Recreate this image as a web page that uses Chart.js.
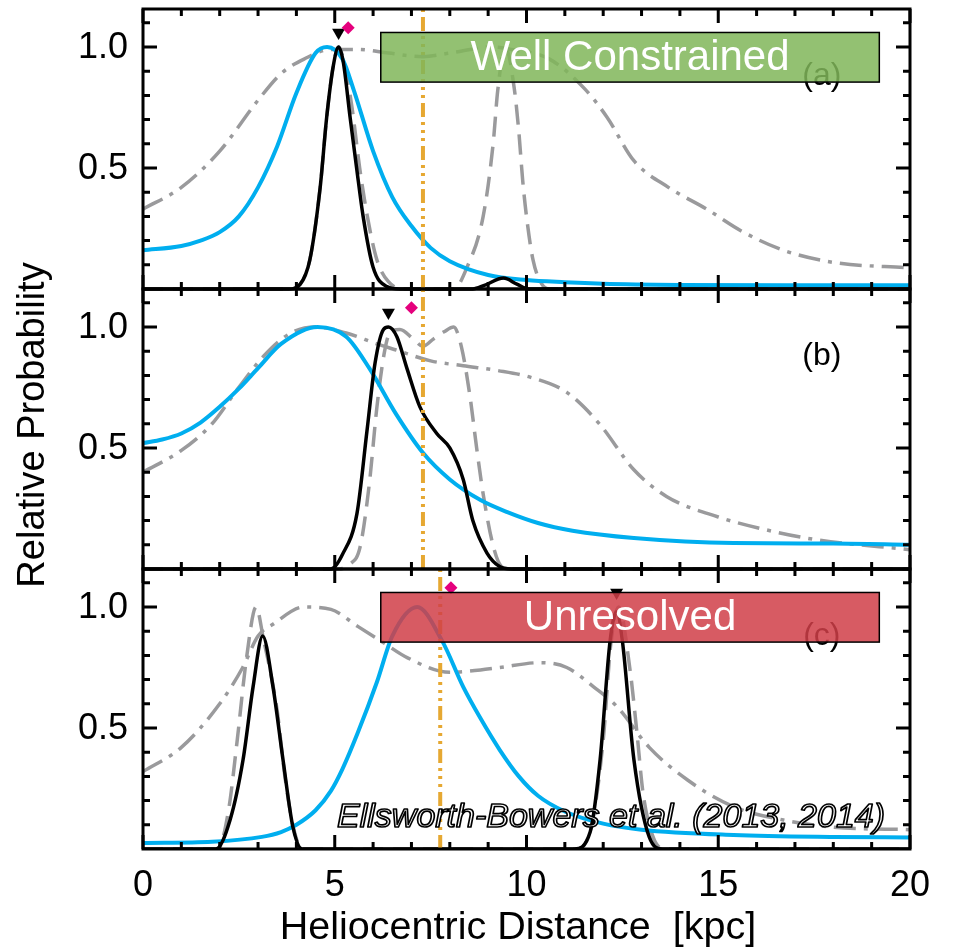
<!DOCTYPE html>
<html>
<head>
<meta charset="utf-8">
<title>Relative Probability</title>
<script src="https://cdn.jsdelivr.net/npm/chart.js@4.4.1/dist/chart.umd.min.js"></script>
<style>
	html, body { margin: 0; padding: 0; background: #fff; }
	canvas { display: block; }
</style>
</head>
<body>
<canvas id="dpdfChart" width="953" height="947"></canvas>
<script>
// each panel shows 0 .. TOP on its own y axis
const TOP = 1.157;

const panelIds = ["ya", "yb", "yc"];
const panelLabels = ["(a)", "(b)", "(c)"];
const panelTags = ["Well Constrained", "", "Unresolved"];
const xTickLabels = [0, 5, 10, 15, 20];
const yTickLabels = [0.5, 1.0];

// orange vertical line, black triangle (peak) and magenta diamond, per panel
const orangeLineX = [7.3, 7.3, 7.75];
const triangleX = [5.1, 6.4, 12.35];
const diamondX = [5.35, 7.0, 8.03];

// panel (a)
const aBlueX = [0, 1, 1.5, 2, 2.5, 3, 3.5, 4, 4.5, 4.8, 5.2, 5.5, 6, 6.5, 7, 7.5, 8, 9, 10, 11, 12, 14, 17, 20];
const aBlueY = [0.16, 0.178, 0.2, 0.235, 0.3, 0.42, 0.59, 0.81, 0.975, 1.0, 0.95, 0.82, 0.57, 0.38, 0.26, 0.17, 0.115, 0.058, 0.037, 0.028, 0.022, 0.017, 0.015, 0.015];
const aBlackX = [0, 3.8, 4.1, 4.35, 4.62, 4.79, 4.96, 5.1, 5.22, 5.4, 5.57, 5.74, 6.0, 6.36, 6.7, 8.6, 8.9, 9.4, 9.75, 10.05, 20];
const aBlackY = [0, 0, 0.02, 0.12, 0.42, 0.71, 0.92, 1.0, 0.94, 0.71, 0.5, 0.3, 0.09, 0.01, 0, 0, 0.015, 0.045, 0.02, 0, 0];
const aDashX = [0, 3.8, 4.1, 4.35, 4.62, 4.79, 4.96, 5.1, 5.25, 5.45, 5.65, 5.85, 6.1, 6.4, 6.8, 8.1, 8.45, 8.87, 9.13, 9.25, 9.45, 9.68, 9.8, 9.9, 10.0, 10.17, 10.4, 10.6, 20];
const aDashY = [0, 0, 0.02, 0.12, 0.42, 0.71, 0.92, 1.0, 0.93, 0.75, 0.5, 0.3, 0.12, 0.03, 0, 0, 0.09, 0.3, 0.6, 0.82, 1.0, 0.83, 0.65, 0.45, 0.3, 0.12, 0.02, 0, 0];
const aDotX = [0, 1, 2, 3, 3.6, 4.2, 4.9, 5.6, 6.4, 7.3, 8.0, 9.1, 9.6, 10.6, 11.5, 12.1, 12.8, 13.7, 14.7, 15.6, 16.7, 18, 20];
const aDotY = [0.33, 0.42, 0.57, 0.78, 0.89, 0.95, 0.99, 0.99, 0.975, 0.96, 0.975, 1.0, 0.99, 0.95, 0.83, 0.71, 0.53, 0.42, 0.33, 0.24, 0.16, 0.11, 0.087];

// panel (b)
const bBlueX = [0, 0.5, 1, 1.5, 2, 2.5, 3, 3.6, 4.55, 5.3, 5.9, 6.6, 7.3, 8.0, 8.8, 9.5, 10.3, 11.2, 12.8, 15.4, 18, 20];
const bBlueY = [0.52, 0.535, 0.56, 0.605, 0.67, 0.745, 0.83, 0.93, 1.0, 0.96, 0.83, 0.64, 0.48, 0.37, 0.285, 0.235, 0.19, 0.158, 0.128, 0.107, 0.105, 0.1];
const bBlackX = [0, 4.9, 5.2, 5.58, 5.84, 6.05, 6.27, 6.4, 6.62, 6.88, 7.22, 7.66, 8.0, 8.35, 8.6, 8.97, 9.3, 9.6, 20];
const bBlackY = [0, 0, 0.06, 0.23, 0.57, 0.85, 0.99, 1.0, 0.96, 0.83, 0.67, 0.56, 0.5, 0.37, 0.2, 0.066, 0.01, 0, 0];
const bDashX = [0, 5.1, 5.4, 5.66, 5.9, 6.1, 6.3, 6.45, 6.7, 7.05, 7.3, 7.57, 7.85, 8.1, 8.3, 8.53, 8.7, 8.88, 9.14, 9.35, 9.6, 20];
const bDashY = [0, 0, 0.02, 0.09, 0.35, 0.67, 0.9, 0.98, 0.99, 0.95, 0.92, 0.95, 0.98, 1.0, 0.92, 0.71, 0.5, 0.3, 0.09, 0.01, 0, 0];
const bDotX = [0, 1, 1.8, 2.45, 3.15, 3.85, 4.5, 5.3, 6.1, 6.6, 7.5, 8.35, 9.25, 10.15, 11.05, 11.9, 12.8, 13.65, 15, 16.3, 17.6, 20];
const bDotY = [0.4, 0.49, 0.6, 0.74, 0.88, 0.975, 1.0, 0.975, 0.93, 0.905, 0.86, 0.84, 0.82, 0.79, 0.73, 0.6, 0.41, 0.3, 0.215, 0.16, 0.12, 0.08];

// panel (c)
const cBlueX = [0, 1.8, 3.1, 3.6, 4.0, 4.5, 4.9, 5.2, 5.6, 6.1, 6.5, 7.15, 7.8, 8.35, 8.8, 9.3, 9.8, 10.3, 11, 12, 13, 15.4, 18, 20];
const cBlueY = [0.025, 0.03, 0.05, 0.07, 0.1, 0.16, 0.24, 0.33, 0.48, 0.69, 0.88, 1.0, 0.86, 0.67, 0.54, 0.41, 0.3, 0.22, 0.155, 0.105, 0.08, 0.058, 0.05, 0.048];
const cBlackX = [0, 1.9, 2.27, 2.61, 2.87, 3.12, 3.39, 3.65, 3.91, 4.15, 11.25, 11.66, 11.92, 12.18, 12.35, 12.5, 12.8, 13.2, 13.55, 20];
const cBlackY = [0, 0, 0.12, 0.37, 0.67, 0.88, 0.67, 0.37, 0.09, 0, 0, 0.07, 0.37, 0.86, 0.98, 0.86, 0.37, 0.05, 0, 0];
const cDashX = [0, 1.95, 2.23, 2.45, 2.7, 2.95, 3.15, 3.3, 3.5, 3.7, 3.92, 4.15, 11.3, 11.7, 12.0, 12.2, 12.4, 12.7, 12.88, 13.04, 13.3, 13.6, 20];
const cDashY = [0, 0, 0.16, 0.44, 0.79, 1.0, 0.86, 0.75, 0.57, 0.3, 0.09, 0, 0, 0.1, 0.45, 0.85, 1.0, 0.74, 0.48, 0.23, 0.05, 0, 0];
const cDotX = [0, 1, 2, 2.6, 3.0, 3.4, 4.2, 4.9, 5.6, 6.2, 6.9, 8.0, 8.8, 9.3, 10.35, 11.05, 11.75, 12.35, 13.2, 14.2, 15.4, 16.7, 18, 20];
const cDotY = [0.32, 0.42, 0.6, 0.75, 0.88, 0.93, 1.0, 0.99, 0.92, 0.86, 0.79, 0.73, 0.74, 0.75, 0.77, 0.75, 0.67, 0.59, 0.42, 0.285, 0.175, 0.12, 0.09, 0.08];

const curves = [
	{ blue: [aBlueX, aBlueY], black: [aBlackX, aBlackY], dash: [aDashX, aDashY], dot: [aDotX, aDotY] },
	{ blue: [bBlueX, bBlueY], black: [bBlackX, bBlackY], dash: [bDashX, bDashY], dot: [bDotX, bDotY] },
	{ blue: [cBlueX, cBlueY], black: [cBlackX, cBlackY], dash: [cDashX, cDashY], dot: [cDotX, cDotY] },
];

const FONT = "'Liberation Sans', Arial, Helvetica, sans-serif";
const GRAY = "#9a9a9c";
const BLUE = "#00aeef";
const ORANGE = "#e6a832";
const MAGENTA = "#e5007d";

function pts(xs, ys) {
	return xs.map((x, i) => ({ x: x, y: ys[i] }));
}

function lineSet(data, axis, color, width, dash, order) {
	return {
		data: data,
		yAxisID: axis,
		borderColor: color,
		borderWidth: width,
		borderDash: dash,
		pointRadius: 0,
		fill: false,
		cubicInterpolationMode: "monotone",
		order: order,
	};
}

const datasets = [];
curves.forEach((c, p) => {
	const axis = panelIds[p];
	datasets.push(lineSet(pts(c.dot[0], c.dot[1]), axis, GRAY, 3.5, [22, 8, 4, 8], 6));
	datasets.push(lineSet(pts(c.dash[0], c.dash[1]), axis, GRAY, 3.5, [20, 10], 5));
	datasets.push(lineSet(pts(c.blue[0], c.blue[1]), axis, BLUE, 4, [], 4));
	datasets.push(lineSet(pts(c.black[0], c.black[1]), axis, "#000", 3.5, [], 3));
	const sun = lineSet([{ x: orangeLineX[p], y: 0 }, { x: orangeLineX[p], y: TOP }], axis, ORANGE, 4, [14, 5, 3, 5, 3, 5, 3, 5], 2);
	sun.cubicInterpolationMode = "default";
	datasets.push(sun);
	datasets.push({
		type: "scatter",
		data: [{ x: triangleX[p], y: 1.06 }],
		yAxisID: axis,
		pointStyle: "triangle",
		rotation: 180,
		pointRadius: 7.5,
		backgroundColor: "#000",
		borderColor: "#000",
		borderWidth: 0,
		order: 1,
	});
	datasets.push({
		type: "scatter",
		data: [{ x: diamondX[p], y: 1.08 }],
		yAxisID: axis,
		pointStyle: "rectRot",
		pointRadius: 6.5,
		backgroundColor: MAGENTA,
		borderColor: MAGENTA,
		borderWidth: 0,
		order: 0,
	});
});

// panel frames, inward ticks, labels and the coloured tags
const panelDecor = {
	id: "panelDecor",
	afterDatasetsDraw(chart) {
		const ctx = chart.ctx;
		const xs = chart.scales.x;
		const left = chart.chartArea.left;
		const right = chart.chartArea.right;
		ctx.save();

		panelIds.forEach((id, p) => {
			const ys = chart.scales[id];
			const top = ys.getPixelForValue(TOP);
			const bottom = ys.getPixelForValue(0);

			// panel letter
			ctx.fillStyle = "#000";
			ctx.font = "32px " + FONT;
			ctx.textAlign = "center";
			ctx.textBaseline = "middle";
			ctx.fillText(panelLabels[p], xs.getPixelForValue(17.7), ys.getPixelForValue(0.88));

			// tag box
			if (panelTags[p]) {
				const bx0 = xs.getPixelForValue(6.2);
				const bx1 = xs.getPixelForValue(19.2);
				const by0 = ys.getPixelForValue(1.06);
				const by1 = ys.getPixelForValue(0.855);
				ctx.fillStyle = p === 0 ? "rgba(128, 182, 89, 0.85)" : "rgba(208, 62, 72, 0.85)";
				ctx.fillRect(bx0, by0, bx1 - bx0, by1 - by0);
				ctx.lineWidth = 1.5;
				ctx.strokeStyle = "#000";
				ctx.strokeRect(bx0, by0, bx1 - bx0, by1 - by0);
				ctx.fillStyle = "#fff";
				ctx.font = "42px " + FONT;
				ctx.textAlign = "center";
				ctx.textBaseline = "middle";
				ctx.fillText(panelTags[p], (bx0 + bx1) / 2, (by0 + by1) / 2 + 1);
			}

			// ticks
			ctx.strokeStyle = "#000";
			ctx.lineWidth = 3;
			ctx.beginPath();
			for (let v = 0; v <= 20; v++) {
				const px = xs.getPixelForValue(v);
				const len = v % 5 === 0 ? 14 : 7;
				ctx.moveTo(px, bottom);
				ctx.lineTo(px, bottom - len);
				ctx.moveTo(px, top);
				ctx.lineTo(px, top + len);
			}
			for (let k = 1; k <= 11; k++) {
				const py = ys.getPixelForValue(k / 10);
				const len = k % 5 === 0 ? 14 : 7;
				ctx.moveTo(left, py);
				ctx.lineTo(left + len, py);
				ctx.moveTo(right, py);
				ctx.lineTo(right - len, py);
			}
			ctx.stroke();
			ctx.lineWidth = 3;
			ctx.strokeRect(left, top, right - left, bottom - top);

			// y tick labels
			ctx.fillStyle = "#000";
			ctx.font = "36px " + FONT;
			ctx.textAlign = "right";
			ctx.textBaseline = "middle";
			yTickLabels.forEach((v) => {
				ctx.fillText(v.toFixed(1), left - 15, ys.getPixelForValue(v) + 1);
			});

			if (p === panelIds.length - 1) {
				ctx.textAlign = "center";
				ctx.textBaseline = "middle";
				xTickLabels.forEach((v) => {
					ctx.fillText(String(v), xs.getPixelForValue(v), bottom + 37);
				});
				ctx.font = "39.5px " + FONT;
				ctx.textBaseline = "alphabetic";
				ctx.fillText("Heliocentric Distance  [kpc]", 518, bottom + 90);

				// citation, outlined italic
				ctx.font = "italic 34px " + FONT;
				ctx.textAlign = "right";
				ctx.lineWidth = 1.7;
				ctx.lineJoin = "round";
				ctx.fillStyle = "#fff";
				ctx.fillText("Ellsworth-Bowers et al. (2013, 2014)", xs.getPixelForValue(19.35), bottom - 22);
				ctx.strokeStyle = "#000";
				ctx.strokeText("Ellsworth-Bowers et al. (2013, 2014)", xs.getPixelForValue(19.35), bottom - 22);
			}
		});

		// y axis title
		ctx.translate(44, 425);
		ctx.rotate(-Math.PI / 2);
		ctx.fillStyle = "#000";
		ctx.font = "38px " + FONT;
		ctx.textAlign = "center";
		ctx.textBaseline = "alphabetic";
		ctx.fillText("Relative Probability", 0, 0);
		ctx.restore();
	},
};

const ctx = document.getElementById("dpdfChart").getContext("2d");
const myChart = new Chart(ctx, {
	type: "line",
	data: { datasets: datasets },
	options: {
		responsive: false,
		devicePixelRatio: 1,
		animation: false,
		layout: { padding: { left: 143, right: 43, top: 9, bottom: 98 } },
		plugins: {
			legend: { display: false },
			tooltip: { enabled: false },
		},
		scales: {
			x: { type: "linear", min: 0, max: 20, display: false },
			ya: { type: "linear", min: -2 * TOP, max: TOP, display: false },
			yb: { type: "linear", min: -TOP, max: 2 * TOP, display: false },
			yc: { type: "linear", min: 0, max: 3 * TOP, display: false },
		},
	},
	plugins: [panelDecor],
});
</script>
</body>
</html>
